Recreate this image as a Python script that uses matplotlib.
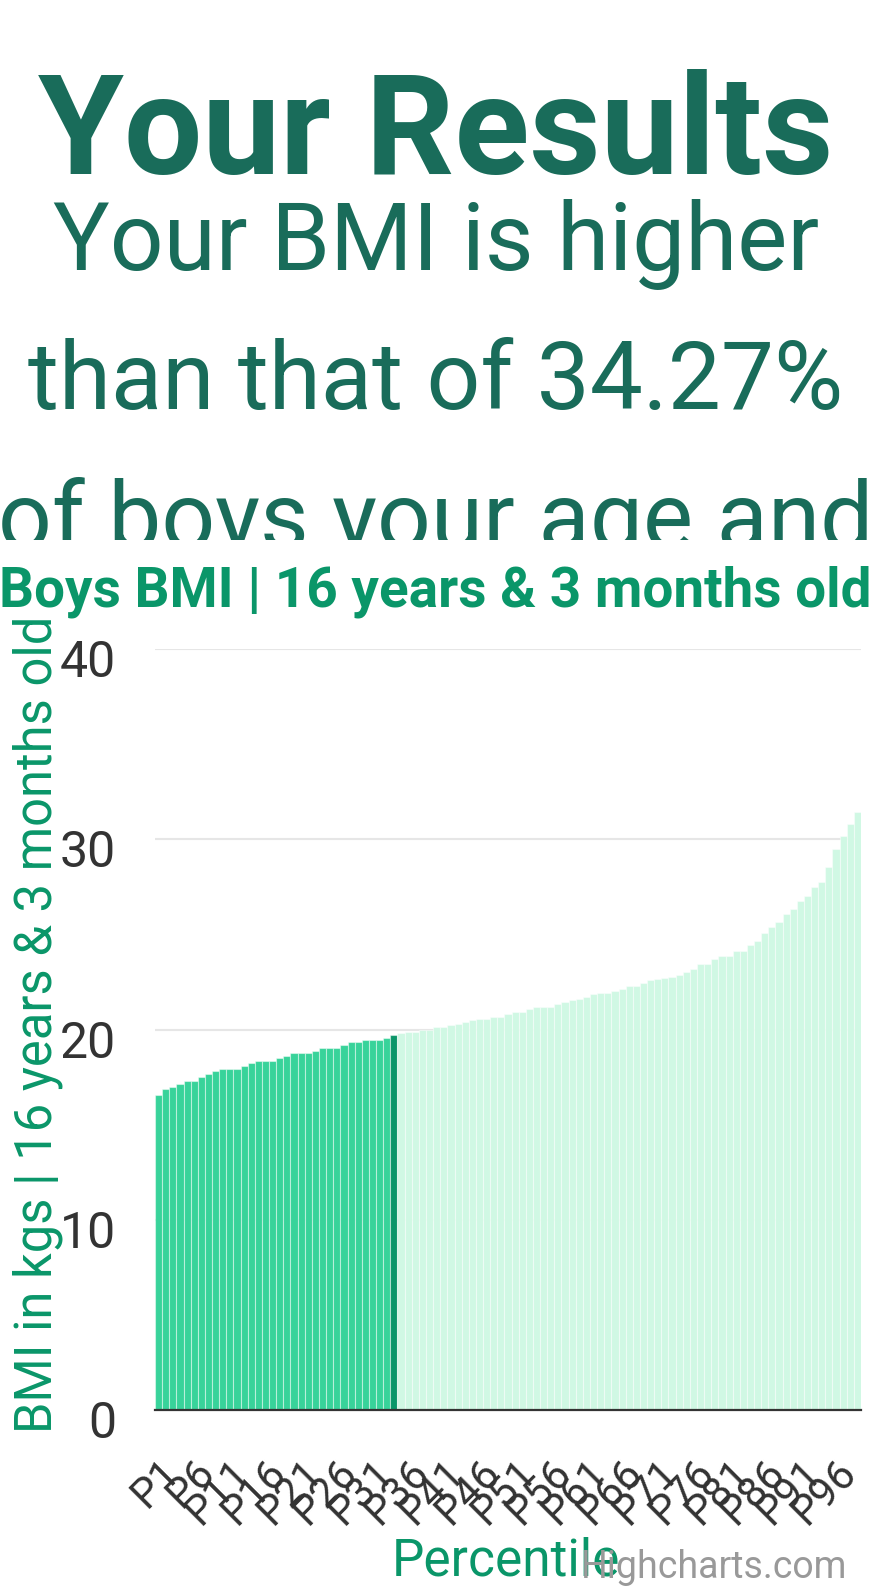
import matplotlib
matplotlib.use("Agg")
from matplotlib import pyplot as plt
from matplotlib.transforms import ScaledTranslation
import numpy as np

plt.rcParams['font.family'] = ['Roboto', 'DejaVu Sans']

percentis = ["P%d" % i for i in range(1, 100)]
bmi = [16.55, 16.85, 16.99, 17.11, 17.27, 17.27, 17.52, 17.66, 17.81, 17.94,
       17.94, 17.94, 18.09, 18.22, 18.34, 18.34, 18.34, 18.48, 18.62, 18.78,
       18.78, 18.78, 18.88, 19.02, 19.02, 19.02, 19.18, 19.32, 19.32, 19.43,
       19.43, 19.43, 19.57, 19.72, 19.80, 19.85, 19.88, 20.00, 20.00, 20.12,
       20.12, 20.22, 20.27, 20.40, 20.50, 20.53, 20.55, 20.64, 20.68, 20.80,
       20.92, 20.94, 21.06, 21.18, 21.19, 21.20, 21.33, 21.45, 21.57, 21.60,
       21.72, 21.88, 21.90, 21.93, 22.03, 22.15, 22.27, 22.28, 22.42, 22.60,
       22.63, 22.72, 22.77, 22.89, 23.03, 23.17, 23.44, 23.44, 23.70, 23.87,
       23.87, 24.12, 24.12, 24.43, 24.66, 25.08, 25.40, 25.66, 26.05, 26.36,
       26.75, 27.01, 27.47, 27.73, 28.55, 29.51, 30.18, 30.78, 31.44]
seu_percentil = 34
rotulos_x = percentis[::5]

titulo = "Your Results"
frase = ["Your BMI is higher", "than that of 34.27%", "of boys your age and"]
titulo_grafico = "Boys BMI | 16 years & 3 months old"
titulo_y = "BMI in kgs | 16 years & 3 months old"
titulo_x = "Percentile"

verde_escuro = "#196c5a"
verde = "#0a9669"
verde_medio = "#38d39a"
verde_claro = "#d0f8e4"

W, H = 876, 1590
fig = plt.figure(figsize=(W / 100, H / 100), dpi=100)

# cabecalho cortado em 540px
corte = 540
ax_h = fig.add_axes([0, 1 - corte / H, 1, corte / H])
ax_h.set_xlim(0, W)
ax_h.set_ylim(corte, 0)
ax_h.axis("off")

t = ax_h.text(436, 174, titulo, ha="center", va="baseline", fontsize=100,
              fontweight="bold", color=verde_escuro, clip_on=True)
t.set_clip_box(ax_h.bbox)
for k, linha in enumerate(frase):
    t = ax_h.text(436, 270 + k * 139.5, linha, ha="center", va="baseline",
                  fontsize=68, color=verde_escuro, clip_on=True)
    t.set_clip_box(ax_h.bbox)

fig.text(435 / W, 1 - 606 / H, titulo_grafico, ha="center", va="baseline",
         fontsize=39.5, fontweight="bold", color=verde)

# grafico
ax = fig.add_axes([155 / W, 180 / H, 706 / W, 761 / H])
x = np.arange(len(bmi))
cores = [verde_medio if i + 1 < seu_percentil else verde_claro for i in x]
cores[seu_percentil - 1] = verde
ax.bar(x, bmi, width=1.0, color=cores, edgecolor=(1, 1, 1, 0.45), linewidth=0.8, zorder=2)

ax.set_xlim(-0.5, len(bmi) - 0.5)
ax.set_ylim(0, 40)
ax.set_yticks([0, 10, 20, 30, 40])
ax.yaxis.grid(True, color="#e6e6e6", linewidth=1.5)
ax.set_axisbelow(True)
for lado in ["top", "right", "left"]:
    ax.spines[lado].set_visible(False)
ax.spines["bottom"].set_color("#333333")
ax.spines["bottom"].set_linewidth(1.6)
ax.spines["bottom"].set_zorder(3)

ax.tick_params(axis="y", length=0, pad=28, labelsize=36, labelcolor="#333333")
for lbl in ax.get_yticklabels():
    lbl.set_transform(lbl.get_transform() + ScaledTranslation(0, -0.09, fig.dpi_scale_trans))

ax.set_xticks(x[::5])
ax.set_xticklabels(rotulos_x, rotation=45, ha="right", va="top",
                   rotation_mode="anchor", fontsize=30, color="#333333")
ax.tick_params(axis="x", length=0, pad=30)

fig.text(52 / W, 1 - 1024 / H, titulo_y, rotation=90, rotation_mode="anchor",
         ha="center", va="baseline", fontsize=36.5, color=verde)
fig.text(506 / W, 1 - 1576 / H, titulo_x, ha="center", va="baseline",
         fontsize=37, color=verde)
fig.text(847 / W, 1 - 1578 / H, "Highcharts.com", ha="right", va="baseline",
         fontsize=27, color="#999999")

fig.savefig("out.png", dpi=100)
